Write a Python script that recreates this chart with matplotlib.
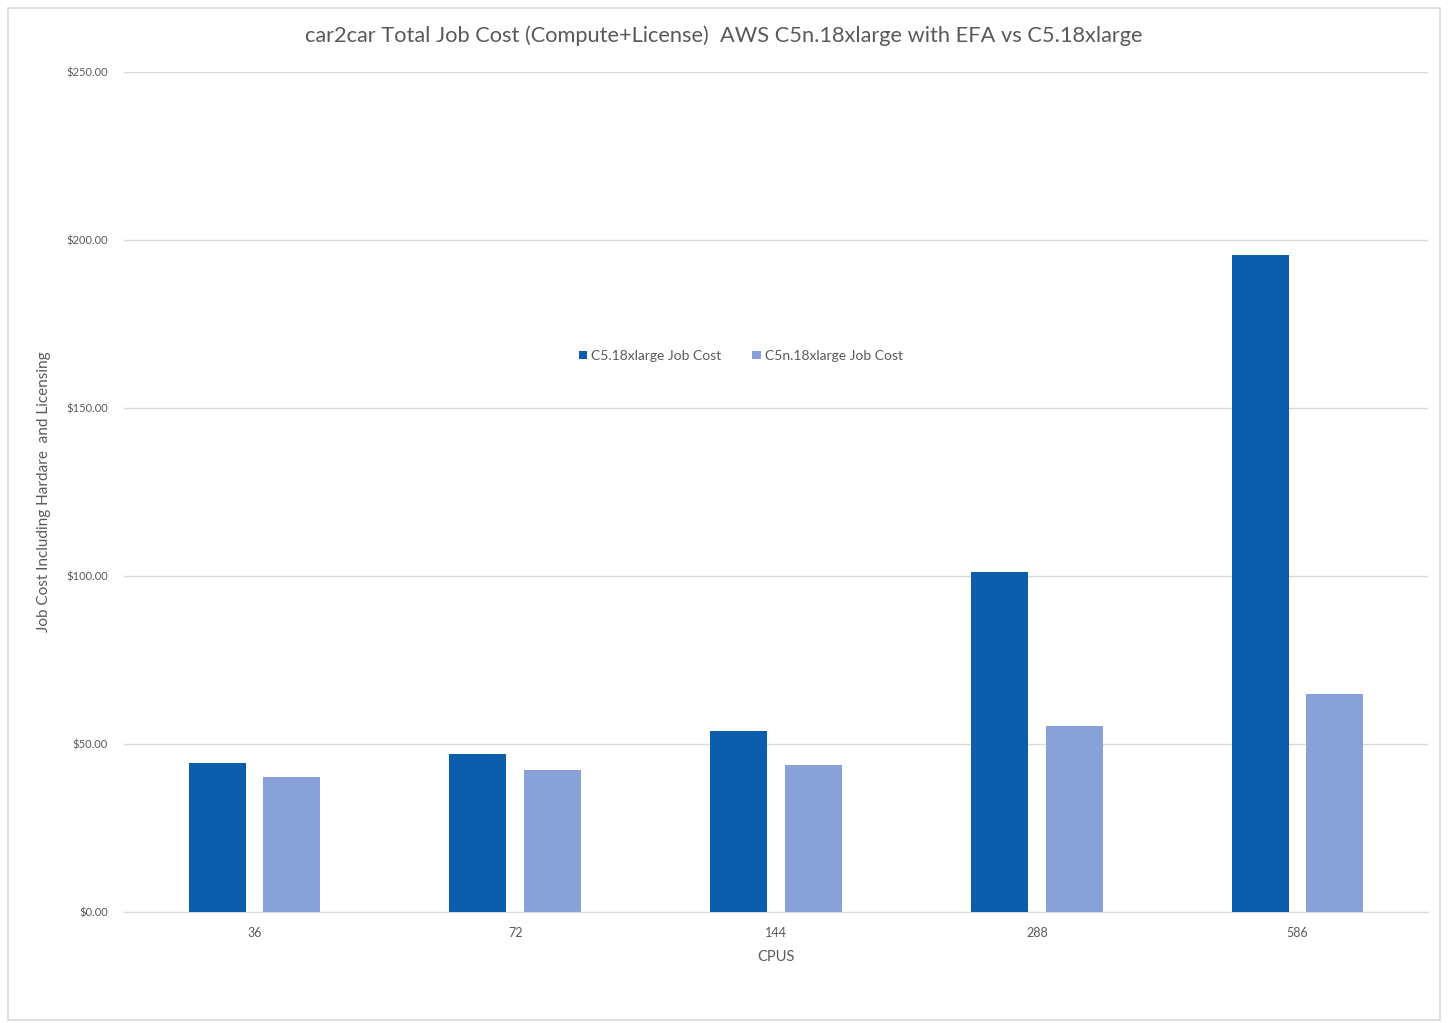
import matplotlib.pyplot as plt
import numpy as np
from matplotlib.patches import Rectangle
from matplotlib.ticker import FuncFormatter

plt.rcParams['font.family'] = ['Lato', 'DejaVu Sans']

cpus = ['36', '72', '144', '288', '586']
c5_cost = [44.3, 47.0, 53.9, 101.2, 195.5]
c5n_cost = [40.2, 42.3, 43.8, 55.4, 64.9]

DARK = '#0C5EAC'
LIGHT = '#88A2D7'
TEXT = '#595959'

fig = plt.figure(figsize=(14.48, 10.23), dpi=100)
fig.patches.append(Rectangle((8 / 1448, 3 / 1023), 1432 / 1448, 1012 / 1023,
                             transform=fig.transFigure, fill=False,
                             edgecolor='#D9D9D9', linewidth=1.2))
ax = fig.add_axes([124 / 1448, 111 / 1023, 1304 / 1448, 840 / 1023])

x = np.arange(len(cpus))
w = 0.218
ax.bar(x - 0.143, c5_cost, w, color=DARK, label='C5.18xlarge Job Cost', zorder=3)
ax.bar(x + 0.143, c5n_cost, w, color=LIGHT, label='C5n.18xlarge Job Cost', zorder=3)

ax.set_xlim(-0.5, len(cpus) - 0.5)
ax.set_ylim(0, 250)
ax.set_yticks(np.arange(0, 251, 50))
ax.yaxis.set_major_formatter(FuncFormatter(lambda v, p: '${:.2f}'.format(v)))
ax.set_xticks(x)
ax.set_xticklabels(cpus)
ax.grid(axis='y', color='#D9D9D9', linewidth=1, zorder=0)
for s in ['top', 'right', 'left']:
    ax.spines[s].set_visible(False)
ax.spines['bottom'].set_color('#D9D9D9')
ax.tick_params(length=0, colors=TEXT)
ax.tick_params(axis='y', pad=11.5, labelsize=8)
ax.tick_params(axis='x', pad=11, labelsize=9)

ax.set_xlabel('CPUS', color=TEXT, fontsize=10.5, labelpad=8)
ax.set_ylabel('Job Cost Including Hardare  and Licensing', color=TEXT, fontsize=11)
ax.yaxis.set_label_coords(-0.056, 0.5)
fig.text(0.5, 1 - 36 / 1023, 'car2car Total Job Cost (Compute+License)  AWS C5n.18xlarge with EFA vs C5.18xlarge',
         color=TEXT, fontsize=15.7, ha='center', va='center')

ax.legend(loc='center', bbox_to_anchor=(0.473, 0.662), ncol=2, frameon=False,
          fontsize=10, labelcolor=TEXT, handlelength=0.6, handleheight=0.6,
          handletextpad=0.3, columnspacing=2.2)

plt.savefig('out.png')
